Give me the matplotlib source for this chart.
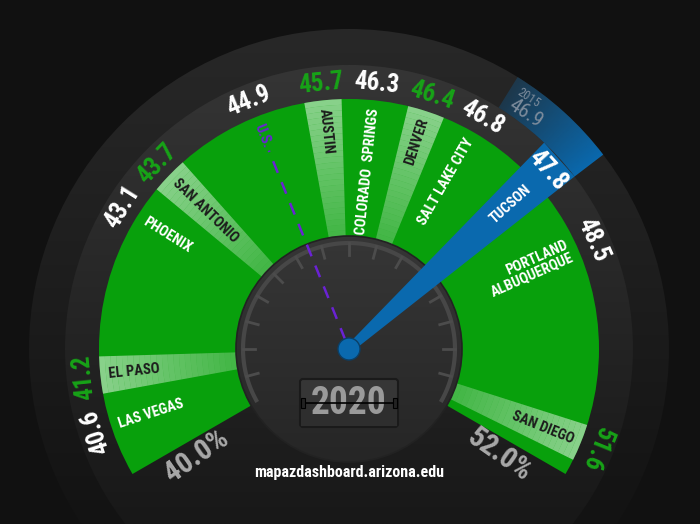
import numpy as np
import matplotlib
matplotlib.use('Agg')
import matplotlib.pyplot as plt
import matplotlib.colors as mcolors
from matplotlib.patches import Wedge, Circle, Polygon, Rectangle, FancyBboxPatch

# values (percent)
cities = ['LAS VEGAS', 'EL PASO', 'PHOENIX', 'SAN ANTONIO', 'U.S.', 'AUSTIN',
          'COLORADO  SPRINGS', 'DENVER', 'SALT LAKE CITY', 'TUCSON',
          'PORTLAND\nALBUQUERQUE', 'SAN DIEGO']
values = [40.6, 41.2, 43.1, 43.7, 44.9, 45.7, 46.3, 46.4, 46.8, 47.8, 48.5, 51.6]
groups = ['metro', 'peer', 'metro', 'peer', 'us', 'peer',
          'metro', 'peer', 'metro', 'focus', 'metro', 'peer']
scale_lo, scale_hi = 40.0, 52.0
year = '2020'
prev_year = '2015'
prev_value = 46.9
site = 'mapazdashboard.arizona.edu'

FONT = ['Roboto Condensed', 'Liberation Sans Narrow', 'DejaVu Sans Condensed',
        'Roboto', 'DejaVu Sans']
plt.rcParams['font.family'] = FONT
plt.rcParams['font.stretch'] = 'condensed'

GREEN = '#08a00c'
BLUE = '#0a69ae'
PURPLE = '#6a22d4'
CX, CY = 349, 175
A0, A1 = 210, -30          # angle of scale_lo / scale_hi
R_IN, R_GREEN, R_MID, R_OUT = 113, 250, 284, 320


def lin(v):
    return A0 + (v - scale_lo) / (scale_hi - scale_lo) * (A1 - A0)


# linear gauge angles, then push crowded labels apart
order = np.argsort(values)
ang = np.array([lin(v) for v in values])
clear = np.array([18 if g == 'focus' else 12 for g in groups])
for k in range(1, len(order)):
    i, j = order[k - 1], order[k]
    ang[j] = min(ang[j], ang[i] - max(clear[i], clear[j]))
sorted_vals = np.array(values)[order]
sorted_ang = ang[order]


def angle_of(v):
    return float(np.interp(v, sorted_vals, sorted_ang))


def pol(r, a):
    t = np.radians(a)
    return CX + r * np.cos(t), CY + r * np.sin(t)


fig = plt.figure(figsize=(7, 5.24), dpi=100)
fig.patch.set_facecolor('#111111')
ax = fig.add_axes([0, 0, 1, 1])
ax.set_facecolor('#111111')
ax.axis('off')


def grad_disk(r, top, bottom, z):
    circ = Circle((CX, CY), r, fc='none', ec='none')
    ax.add_patch(circ)
    c0 = np.array(mcolors.to_rgb(top))
    c1 = np.array(mcolors.to_rgb(bottom))
    t = np.linspace(0, 1, 256)[:, None]
    img = (c0 * (1 - t) + c1 * t)[:, None, :]
    im = ax.imshow(img, extent=(CX - r, CX + r, max(0, CY - r), CY + r),
                   aspect='auto', zorder=z, interpolation='bilinear')
    im.set_clip_path(circ)


grad_disk(R_OUT, '#282828', '#131313', 1)
grad_disk(R_MID, '#353535', '#181818', 2)

# green scale
ax.add_patch(Wedge((CX, CY), R_GREEN, A1, A0, width=R_GREEN - R_IN,
                   fc=GREEN, ec='none', zorder=3))

# light bands for peer cities
n = 24
edges = np.linspace(R_IN, R_GREEN, n + 1)
for a, g in zip(ang, groups):
    if g != 'peer':
        continue
    for s in range(n):
        al = 0.24 + 0.28 * s / (n - 1)
        ax.add_patch(Wedge((CX, CY), edges[s + 1], a - 4.3, a + 4.3,
                           width=edges[s + 1] - edges[s], fc='white',
                           alpha=al, ec='none', lw=0, zorder=4))

# inner dial
grad_disk(R_IN, '#363636', '#262626', 5)
ax.add_patch(Circle((CX, CY), R_IN, fc='none', ec='#222222', lw=1.2, zorder=6))
th = np.linspace(np.radians(A1), np.radians(A0), 200)
ax.plot(CX + 106 * np.cos(th), CY + 106 * np.sin(th), color='#474747', lw=3,
        solid_capstyle='butt', zorder=6)
for a in np.arange(A0 - 15, A1 + 1, -15):
    x0, y0 = pol(94, a)
    x1, y1 = pol(106, a)
    ax.plot([x0, x1], [y0, y1], color='#4c4c4c', lw=2, zorder=6)

# Tucson needle and trail since previous year
a_t = ang[groups.index('focus')]
half = 4.6
p_l = pol(R_MID, a_t + half)
p_r = pol(R_MID, a_t - half)
nx, ny = -np.sin(np.radians(a_t)), np.cos(np.radians(a_t))
ax.add_patch(Polygon([(CX + 4 * nx, CY + 4 * ny), p_l, p_r,
                      (CX - 4 * nx, CY - 4 * ny)], closed=True,
                     fc=BLUE, ec='none', zorder=7))
a_prev = angle_of(prev_value)
a_lo = a_t - half
trail = Wedge((CX, CY), R_OUT, a_lo, a_prev, width=R_OUT - R_MID,
              fc='none', ec='none')
ax.add_patch(trail)
xs = np.arange(CX, CX + R_OUT + 1)
ys = np.arange(CY, CY + R_OUT + 1)
gx, gy = np.meshgrid(xs, ys)
ga = np.degrees(np.arctan2(gy - CY, gx - CX))
tt = np.clip((ga - a_lo) / (a_prev - a_lo), 0, 1)
rgba = np.zeros(gx.shape + (4,))
rgba[..., :3] = mcolors.to_rgb(BLUE)
rgba[..., 3] = 1.0 - 0.72 * tt
im = ax.imshow(rgba[::-1], extent=(xs[0], xs[-1], ys[0], ys[-1]),
               aspect='auto', zorder=3, interpolation='bilinear')
im.set_clip_path(trail)
for txt, r, fs in [(prev_year, 309, 9), ('%.1f' % prev_value, 294, 15)]:
    x, y = pol(r, a_prev - 1.5)
    ax.text(x, y, txt, rotation=a_prev - 1.5 - 90, ha='left', va='center',
            rotation_mode='anchor', color='#7d8c9c', fontsize=fs, zorder=8)

# U.S. dashed line
a_us = ang[groups.index('us')]
x0, y0 = pol(10, a_us)
x1, y1 = pol(214, a_us)
ax.plot([x0, x1], [y0, y1], color=PURPLE, lw=1.8, dashes=(5, 4), zorder=7)

ax.add_patch(Circle((CX, CY), 11, fc=BLUE, ec='#0b3f66', lw=1, zorder=9))

# labels
for name, v, a, g in zip(cities, values, ang, groups):
    left = a > 90
    rot = a - 180 if left else a
    x, y = pol(242, a)
    if g == 'peer':
        ncol, vcol = '#1c1c1c', '#17a317'
    elif g == 'us':
        ncol, vcol = PURPLE, 'white'
    else:
        ncol, vcol = 'white', 'white'
    ax.text(x, y, name, rotation=rot, rotation_mode='anchor',
            ha='left' if left else 'right', va='center', multialignment='right',
            color=ncol, fontsize=10.5, fontweight='bold', zorder=10,
            linespacing=1.0)
    x, y = pol(267, a)
    ax.text(x, y, '%.1f' % v, rotation=a - 90, rotation_mode='anchor',
            ha='center', va='center', color=vcol, fontsize=18,
            fontweight='bold', zorder=10)

# scale ends
for v, da, r in [(scale_lo, 5, 186), (scale_hi, -5, 184)]:
    a = lin(v) + da
    x, y = pol(r, a)
    rot = a - 180 if a > 90 else a
    ax.text(x, y, '%.1f%%' % v, rotation=rot, rotation_mode='anchor',
            ha='center', va='center', color='#a9a9a9', fontsize=21,
            fontweight='bold', zorder=10)

# year counter
bx, by, bw, bh = CX - 49, 97, 98, 48
ax.add_patch(FancyBboxPatch((bx, by), bw, bh, boxstyle='round,pad=0,rounding_size=3',
                            fc='#363636', ec='#1a1a1a', lw=1.5, zorder=8))
ax.add_patch(Rectangle((bx + 1, by + 1), bw - 2, bh / 2 - 1, fc='#2e2e2e',
                       ec='none', zorder=8))
ax.text(CX, by + bh / 2, year, ha='center', va='center', color='#9a9a9a',
        fontsize=27, fontweight='bold', zorder=9)
ax.plot([bx + 4, bx + bw - 4], [by + bh / 2, by + bh / 2], color='black',
        lw=1.2, zorder=10)
for hx in (bx + 1, bx + bw - 5):
    ax.add_patch(Rectangle((hx, by + bh / 2 - 5), 4, 10, fc='#222222',
                           ec='black', lw=0.8, zorder=10))

ax.text(CX, 51, site, ha='center', va='center', color='white', fontsize=11.5,
        fontweight='bold', zorder=10)

ax.set_xlim(0, 700)
ax.set_ylim(0, 524)
fig.savefig('out.png', dpi=100, facecolor=fig.get_facecolor())
